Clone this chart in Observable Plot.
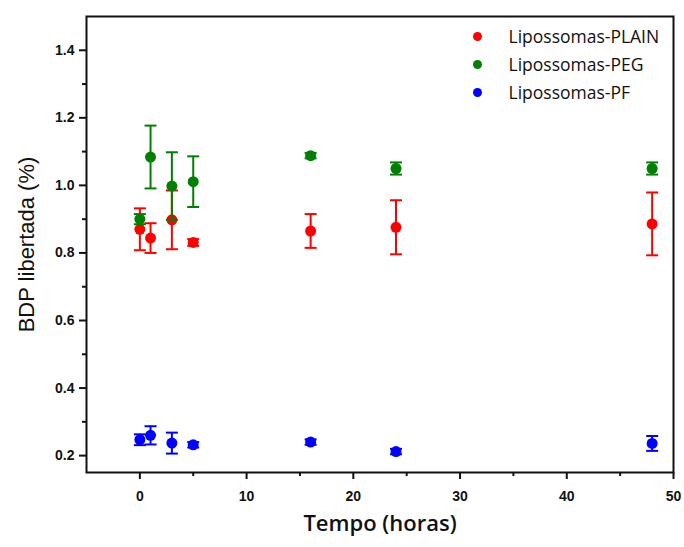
<!DOCTYPE html>
<html><head><meta charset="utf-8">
<script src="https://cdn.jsdelivr.net/npm/d3@7"></script>
<script src="https://cdn.jsdelivr.net/npm/@observablehq/plot@0.6"></script>
<style>body{margin:0;background:#fff}#chart{width:684px;height:547px}</style>
</head><body><div id="chart"></div>
<script>
const seriesNames = ["Lipossomas-PLAIN", "Lipossomas-PEG", "Lipossomas-PF"];
const seriesColors = ["#ff0000", "#008000", "#0000ff"];
const times = [0, 1, 3, 5, 16, 24, 48];
const plainMean = [0.870, 0.844, 0.898, 0.831, 0.865, 0.876, 0.886];
const plainErr  = [0.062, 0.044, 0.087, 0.010, 0.050, 0.080, 0.093];
const pegMean   = [0.900, 1.084, 0.998, 1.011, 1.088, 1.050, 1.050];
const pegErr    = [0.015, 0.093, 0.100, 0.075, 0.008, 0.018, 0.018];
const pfMean    = [0.247, 0.260, 0.237, 0.232, 0.240, 0.212, 0.236];
const pfErr     = [0.016, 0.027, 0.031, 0.008, 0.008, 0.008, 0.022];
const yTicks = [0.2, 0.4, 0.6, 0.8, 1.0, 1.2, 1.4];
const yMinor = [0.3, 0.5, 0.7, 0.9, 1.1, 1.3];
const xTicks = [0, 10, 20, 30, 40, 50];
const xMinor = [5, 15, 25, 35, 45];

const means = [plainMean, pegMean, pfMean];
const errs = [plainErr, pegErr, pfErr];

const rows = seriesNames.flatMap((s, si) => times.map((t, i) => ({
  series: s, t, y: means[si][i],
  lo: means[si][i] - errs[si][i], hi: means[si][i] + errs[si][i]
})));

const capSymbol = {
  draw(ctx, size) {
    const w = Math.sqrt(size / Math.PI);
    ctx.moveTo(-w, 0); ctx.lineTo(w, 0);
  }
};

const seriesMarks = seriesNames.flatMap((s, si) => {
  const d = rows.filter(r => r.series === s);
  const caps = d.flatMap(r => [{t: r.t, y: r.lo}, {t: r.t, y: r.hi}]);
  return [
    Plot.ruleX(d, {x: "t", y1: "lo", y2: "hi", stroke: seriesColors[si], strokeWidth: 2}),
    Plot.dot(caps, {x: "t", y: "y", symbol: capSymbol, r: 6, stroke: seriesColors[si], strokeWidth: 2, fill: "none"}),
    Plot.dot(d, {x: "t", y: "y", r: 5.5, fill: seriesColors[si], stroke: "none"})
  ];
});

const legendMarks = seriesNames.flatMap((s, si) => [
  Plot.dot([s], {frameAnchor: "top-left", dx: 391, dy: 20 + 28 * si, r: 4.5, fill: seriesColors[si]}),
  Plot.text([s], {frameAnchor: "top-left", dx: 422, dy: 21 + 28 * si, text: d => d, textAnchor: "start", lineAnchor: "middle",
    fontSize: 17.5, fontWeight: 500, fontFamily: "Open Sans, sans-serif", fill: "#111"})
]);

const chart = Plot.plot({
  width: 684, height: 547,
  marginLeft: 86, marginRight: 11, marginTop: 16, marginBottom: 75,
  x: {domain: [-5, 50]},
  y: {domain: [0.15, 1.5]},
  style: {fontFamily: "Arial, 'Liberation Sans', sans-serif", background: "#fff", color: "#111"},
  marks: [
    Plot.axisY({ticks: yTicks, tickSize: 7, tickPadding: 5, tickFormat: d3.format(".1f"), fontSize: 14, fontWeight: "bold", label: null, strokeWidth: 2}),
    Plot.axisY({ticks: yMinor, tickSize: 4, tickFormat: () => "", label: null, strokeWidth: 2}),
    Plot.axisX({ticks: xTicks, tickSize: 7, tickPadding: 12, fontSize: 14, fontWeight: "bold", label: null, strokeWidth: 2}),
    Plot.axisX({ticks: xMinor, tickSize: 4, tickFormat: () => "", label: null, strokeWidth: 2}),
    Plot.text(["BDP libertada (%)"], {frameAnchor: "left", dx: -60, rotate: -90, text: d => d, textAnchor: "middle", lineAnchor: "middle", fontSize: 22, fill: "#111"}),
    Plot.text(["Tempo (horas)"], {frameAnchor: "bottom", dy: 51, text: d => d, textAnchor: "middle", lineAnchor: "middle", fontSize: 22, fontWeight: 600, fontFamily: "Open Sans, sans-serif", fill: "#111"}),
    ...seriesMarks,
    ...legendMarks,
    Plot.frame({stroke: "#111", strokeWidth: 2})
  ]
});
document.getElementById("chart").append(chart);
</script></body></html>
